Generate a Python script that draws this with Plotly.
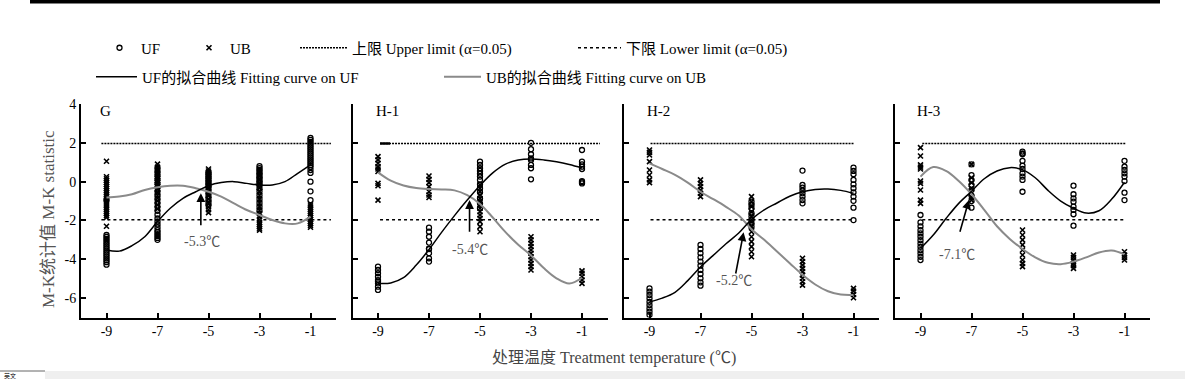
import plotly.graph_objects as go

# ---------------- data ----------------
TEMPS = [-9, -7, -5, -3, -1]
TEMP_LABELS = ["-9", "-7", "-5", "-3", "-1"]
Y_TICKS = [-6, -4, -2, 0, 2, 4]
Y_TICK_LABELS = ["-6", "-4", "-2", "0", "2", "4"]
PANEL_NAMES = ["G", "H-1", "H-2", "H-3"]
CROSS_LABELS = ["-5.3℃", "-5.4℃", "-5.2℃", "-7.1℃"]
UPPER = 1.96
LOWER = -1.96

# observed UF / UB values, one list per treatment temperature (-9, -7, -5, -3, -1)
G_UF = [
    [-0.95, -2.75, -2.85, -2.95, -3.05, -3.15, -3.25, -3.35, -3.45, -3.55, -3.65, -3.75, -3.85, -3.95, -4.05, -4.15, -4.28],
    [0.7, 0.5, 0.3, 0.1, -0.1, -0.3, -0.5, -0.7, -0.9, -1.1, -1.3, -1.5, -1.7, -1.9, -2.05, -2.2, -2.35, -2.5, -2.6, -2.7, -2.8, -2.9, -3.0],
    [0.5, 0.4, 0.3, 0.2, 0.1, 0.0, -0.1, -0.2, -0.3, -0.45, -0.6, -0.75, -0.9, -1.05, -1.2],
    [0.8, 0.7, 0.6, 0.5, 0.4, 0.3, 0.2, 0.1, 0.0, -0.1, -0.2, -0.35, -0.5, -0.7, -0.9, -1.1, -1.3, -1.5],
    [2.25, 2.15, 2.05, 1.95, 1.85, 1.75, 1.65, 1.55, 1.45, 1.35, 1.25, 1.15, 1.05, 0.95, 0.85, 0.75, 0.6, 0.45, 0.0, -0.5, -0.95],
]
G_UB = [
    [1.05, 0.25, 0.15, 0.05, -0.05, -0.15, -0.25, -0.35, -0.45, -0.55, -0.65, -0.75, -0.85, -0.95, -1.05, -1.15, -1.25, -1.35, -1.45, -1.55, -1.65, -1.75, -1.85, -2.3],
    [0.9, 0.75, 0.65, 0.55, 0.45, 0.35, 0.25, 0.15, 0.05, -0.05, -0.15, -0.25, -0.4, -0.55, -0.7, -0.85, -1.0, -1.2, -1.4],
    [0.65, 0.55, 0.45, 0.35, 0.25, 0.1, -0.05, -0.2, -0.35, -0.5, -0.7, -0.9, -1.1, -1.3, -1.45, -1.6],
    [0.5, 0.3, 0.1, -0.1, -0.3, -0.5, -0.7, -0.9, -1.1, -1.3, -1.5, -1.65, -1.8, -1.95, -2.1, -2.2, -2.3, -2.4, -2.5],
    [-1.15, -1.25, -1.35, -1.45, -1.55, -1.65, -1.75, -1.85, -1.95, -2.05, -2.15, -2.25, -2.35],
]
H1_UF = [
    [-4.38, -4.55, -4.72, -4.9, -5.07, -5.15, -5.24, -5.41, -5.58],
    [-2.37, -2.58, -2.84, -3.14, -3.45, -3.47, -3.69, -3.95, -4.12],
    [1.03, 0.86, 0.69, 0.55, 0.41, 0.26, 0.09, -0.14, -0.34, -0.55, -0.86, -1.12, -1.37],
    [2.0, 1.67, 1.41, 1.2, 1.12, 0.86, 0.69, 0.12],
    [1.63, 1.03, 0.89, 0.77, 0.65, 0.03, -0.03, -0.09],
]
H1_UB = [
    [1.29, 1.12, 0.95, 0.77, 0.65, 0.52, -0.09, -0.21, -0.95],
    [0.29, 0.12, -0.05, -0.26, -0.52, -0.69, -0.82],
    [-0.17, -0.34, -0.52, -0.69, -0.86, -1.03, -1.2, -1.37, -1.55, -1.72, -1.89, -2.06, -2.32, -2.58],
    [-2.84, -3.0, -3.18, -3.35, -3.52, -3.69, -3.87, -4.04, -4.21, -4.38, -4.55],
    [-4.6, -4.72, -4.9, -5.07, -5.24],
]
H2_UF = [
    [-5.5, -5.67, -5.84, -6.01, -6.19, -6.36, -6.53, -6.7, -6.87],
    [-3.26, -3.47, -3.69, -3.9, -4.12, -4.33, -4.55, -4.76, -4.98, -5.19, -5.36],
    [-1.03, -1.2, -1.37, -1.63, -1.8, -1.98, -2.15, -2.32],
    [0.57, -0.17, -0.31, -0.46, -0.6, -0.77, -0.95, -1.12],
    [0.72, 0.55, 0.38, 0.09, -0.14, -0.34, -0.55, -0.77, -0.99, -1.34, -1.98],
]
H2_UB = [
    [1.63, 1.51, 1.37, 1.03, 0.6, 0.34, 0.09, -0.05],
    [0.09, -0.09, -0.26, -0.43, -0.6, -0.77],
    [-0.77, -1.03, -1.29, -1.55, -1.8, -2.06, -2.32, -2.58, -2.84, -3.09, -3.35, -3.61, -3.87],
    [-3.95, -4.12, -4.3, -4.47, -4.64, -4.81, -4.98, -5.16, -5.33],
    [-5.5, -5.64, -5.81, -5.98],
]
H3_UF = [
    [-1.72, -2.1, -2.3, -2.5, -2.67, -2.84, -3.02, -3.19, -3.36, -3.53, -3.7, -3.87, -4.04],
    [0.89, 0.34, 0.09, -0.17, -0.43, -0.72, -1.0, -1.34],
    [1.55, 1.45, 1.41, 1.07, 0.82, 0.65, 0.43, 0.26, 0.09, -0.52],
    [-0.21, -0.65, -0.86, -1.03, -1.29, -1.46, -1.68, -2.27],
    [1.07, 0.77, 0.6, 0.43, 0.26, 0.03, -0.57, -0.95],
]
H3_UB = [
    [1.75, 1.32, 0.86, 0.75, 0.65, 0.03, -0.09, -0.43, -0.95, -1.12],
    [0.89, 0.2, -0.05, -0.35, -0.8, -0.95],
    [-2.49, -2.75, -3.0, -3.26, -3.52, -3.78, -4.04, -4.21, -4.38],
    [-3.78, -3.9, -4.04, -4.21, -4.33, -4.47],
    [-3.61, -3.78, -3.9, -4.04],
]

# fitted curves
FIT_X = [-9, -8.5, -8, -7.5, -7, -6.5, -6, -5.5, -5, -4.5, -4, -3.5, -3, -2.5, -2, -1.5, -1]
G_UF_FIT = [-3.52, -3.58, -3.3, -2.84, -2.06, -1.37, -0.86, -0.52, -0.21, -0.05, 0.0, -0.09, -0.17, -0.17, 0.0, 0.43, 0.86]
G_UB_FIT = [-0.82, -0.77, -0.65, -0.43, -0.29, -0.21, -0.21, -0.34, -0.52, -0.77, -1.12, -1.46, -1.72, -1.98, -2.15, -2.15, -1.8]
H1_UF_FIT = [-5.24, -5.22, -4.95, -4.3, -3.5, -2.6, -1.75, -0.95, -0.2, 0.45, 0.9, 1.12, 1.17, 1.12, 1.02, 0.88, 0.7]
H1_UB_FIT = [0.48, 0.05, -0.2, -0.33, -0.38, -0.4, -0.45, -0.7, -1.15, -1.85, -2.6, -3.25, -3.8, -4.45, -4.98, -5.25, -4.95]
H2_UF_FIT = [-6.19, -6.0, -5.7, -5.1, -4.4, -3.8, -3.2, -2.65, -1.95, -1.45, -1.1, -0.75, -0.52, -0.4, -0.38, -0.45, -0.6]
H2_UB_FIT = [0.94, 0.65, 0.35, -0.05, -0.52, -0.9, -1.3, -1.75, -2.45, -3.0, -3.6, -4.2, -4.8, -5.3, -5.65, -5.82, -5.84]
H3_UF_FIT = [-3.44, -2.75, -1.9, -1.12, -0.5, 0.15, 0.55, 0.72, 0.62, 0.2, -0.45, -1.0, -1.37, -1.62, -1.5, -0.9, -0.03]
H3_UB_FIT = [0.26, 0.75, 0.55, 0.03, -0.65, -1.45, -2.3, -2.95, -3.47, -3.9, -4.18, -4.25, -4.12, -3.9, -3.65, -3.55, -3.75]

# limit-line extents per panel
LIMIT_START = [-9.2, -8.92, -8.96, -8.93]
LIMIT_END = [-0.2, -0.3, -1.0, -0.96]
# short solid stub at the start of the upper limit in panel H-1
H1_UPPER_STUB_X = [-8.92, -8.53]

# crossing-point arrows (head / tail) and label positions
ARROW_HEAD_X = [-5.3, -5.41, -5.31, -7.1]
ARROW_HEAD_Y = [-0.6, -0.95, -2.61, -0.95]
ARROW_TAIL_X = [-5.3, -5.41, -5.63, -7.47]
ARROW_TAIL_Y = [-2.32, -2.66, -4.81, -2.66]
LABEL_X = [-5.24, -5.41, -5.68, -7.56]
LABEL_Y = [-3.09, -3.52, -5.07, -3.75]

# ---------------- layout constants ----------------
W, H = 1185, 379
PANEL_LEFT = [81, 352.5, 624, 895]
PANEL_W = 255
PLOT_TOP, PLOT_BOTTOM = 104, 317.5
PANEL_LABEL_DX = [17, 22, 21, 20]
SERIF = "Liberation Serif, 'Times New Roman', 'Noto Sans CJK SC', serif"
GRAY_CURVE = "#8a8a8a"


def fx(p):
    return p / W


def fy(p):
    return 1 - p / H


uf_sets = [G_UF, H1_UF, H2_UF, H3_UF]
ub_sets = [G_UB, H1_UB, H2_UB, H3_UB]
uf_fits = [G_UF_FIT, H1_UF_FIT, H2_UF_FIT, H3_UF_FIT]
ub_fits = [G_UB_FIT, H1_UB_FIT, H2_UB_FIT, H3_UB_FIT]

fig = go.Figure()
annotations = []
layout_axes = {}

for i in range(4):
    xa = "x" if i == 0 else f"x{i+1}"
    ya = "y" if i == 0 else f"y{i+1}"
    first = i == 0

    fig.add_trace(go.Scatter(
        x=[LIMIT_START[i], LIMIT_END[i]], y=[UPPER, UPPER], mode="lines",
        line=dict(color="black", width=1.5, dash="2px,1px"),
        name="上限 Upper limit (α=0.05)", legend="legend3", showlegend=first,
        xaxis=xa, yaxis=ya, hoverinfo="skip"))
    fig.add_trace(go.Scatter(
        x=[LIMIT_START[i], LIMIT_END[i]], y=[LOWER, LOWER], mode="lines",
        line=dict(color="black", width=1.5, dash="dot"),
        name="下限 Lower limit (α=0.05)", legend="legend4", showlegend=first,
        xaxis=xa, yaxis=ya, hoverinfo="skip"))
    if i == 1:
        fig.add_trace(go.Scatter(
            x=H1_UPPER_STUB_X, y=[UPPER, UPPER], mode="lines",
            line=dict(color="black", width=2.5), showlegend=False,
            xaxis=xa, yaxis=ya, hoverinfo="skip"))

    ux = [t for t, vals in zip(TEMPS, uf_sets[i]) for _ in vals]
    uy = [v for vals in uf_sets[i] for v in vals]
    bx = [t for t, vals in zip(TEMPS, ub_sets[i]) for _ in vals]
    by = [v for vals in ub_sets[i] for v in vals]

    fig.add_trace(go.Scatter(
        x=bx, y=by, mode="markers", name="UB",
        marker=dict(symbol="x-thin", size=5, line=dict(color="black", width=1.6), color="black"),
        legend="legend2", showlegend=first, xaxis=xa, yaxis=ya))
    fig.add_trace(go.Scatter(
        x=ux, y=uy, mode="markers", name="UF",
        marker=dict(symbol="circle-open", size=5, line=dict(color="black", width=1.3), color="black"),
        legend="legend", showlegend=first, xaxis=xa, yaxis=ya))

    fig.add_trace(go.Scatter(
        x=FIT_X, y=ub_fits[i], mode="lines", line_shape="spline",
        line=dict(color=GRAY_CURVE, width=2, smoothing=1.0),
        name="UB的拟合曲线 Fitting curve on UB", legend="legend6", showlegend=first,
        xaxis=xa, yaxis=ya, hoverinfo="skip"))
    fig.add_trace(go.Scatter(
        x=FIT_X, y=uf_fits[i], mode="lines", line_shape="spline",
        line=dict(color="black", width=1.5, smoothing=1.0),
        name="UF的拟合曲线 Fitting curve on UF", legend="legend5", showlegend=first,
        xaxis=xa, yaxis=ya, hoverinfo="skip"))

    left = fx(PANEL_LEFT[i])
    right = fx(PANEL_LEFT[i] + PANEL_W)
    xkey = "xaxis" if i == 0 else f"xaxis{i+1}"
    ykey = "yaxis" if i == 0 else f"yaxis{i+1}"
    layout_axes[xkey] = dict(
        domain=[left, right], range=[-10, 0], anchor=ya,
        tickmode="array", tickvals=TEMPS, ticktext=TEMP_LABELS,
        ticks="inside", ticklen=5, tickwidth=1.5, tickcolor="black",
        showline=True, linecolor="black", linewidth=2,
        showgrid=False, zeroline=False, automargin=False, fixedrange=True,
        tickfont=dict(family=SERIF, size=14, color="black"))
    layout_axes[ykey] = dict(
        domain=[fy(PLOT_BOTTOM), fy(PLOT_TOP)], range=[-7, 4], anchor=xa,
        tickmode="array", tickvals=Y_TICKS, ticktext=Y_TICK_LABELS,
        showticklabels=first,
        ticks="inside", ticklen=5, tickwidth=1.5, tickcolor="black",
        showline=True, linecolor="black", linewidth=2,
        showgrid=False, zeroline=False, automargin=False, fixedrange=True,
        tickfont=dict(family=SERIF, size=14, color="black"))

    # panel label
    annotations.append(dict(
        text=PANEL_NAMES[i], xref=f"{xa} domain", yref=f"{ya} domain",
        x=PANEL_LABEL_DX[i] / PANEL_W, y=(PLOT_BOTTOM - 111) / (PLOT_BOTTOM - PLOT_TOP),
        xanchor="left", yanchor="middle", showarrow=False,
        font=dict(family=SERIF, size=15, color="black")))
    # crossing arrow
    annotations.append(dict(
        text="", x=ARROW_HEAD_X[i], y=ARROW_HEAD_Y[i], xref=xa, yref=ya,
        ax=ARROW_TAIL_X[i], ay=ARROW_TAIL_Y[i], axref=xa, ayref=ya,
        showarrow=True, arrowhead=2, arrowsize=1.1, arrowwidth=1.6,
        arrowcolor="black", standoff=0, startstandoff=0))
    annotations.append(dict(
        text=CROSS_LABELS[i], x=LABEL_X[i], y=LABEL_Y[i], xref=xa, yref=ya,
        showarrow=False, xanchor="center", yanchor="middle",
        font=dict(family=SERIF, size=14, color="#555555")))

# axis titles
annotations.append(dict(
    text="处理温度 Treatment temperature (℃)", xref="paper", yref="paper",
    x=fx(614), y=fy(358), xanchor="center", yanchor="middle", showarrow=False,
    font=dict(family=SERIF, size=16, color="#444444")))
annotations.append(dict(
    text="M-K统计值 M-K statistic", xref="paper", yref="paper",
    x=fx(48), y=fy(219), xanchor="center", yanchor="middle", showarrow=False,
    textangle=-90, font=dict(family=SERIF, size=17, color="#555555")))
# bottom tab text (page chrome in the reference)
annotations.append(dict(
    text="英文", xref="paper", yref="paper", x=fx(2), y=fy(375),
    xanchor="left", yanchor="middle", showarrow=False,
    font=dict(family="Noto Sans CJK SC", size=6, color="black")))

shapes = [
    # thick rule at the top
    dict(type="rect", xref="paper", yref="paper", x0=fx(30), x1=fx(1160),
         y0=fy(3.5), y1=fy(0), fillcolor="black", line=dict(width=0), layer="above"),
    # grey status bar at the bottom
    dict(type="rect", xref="paper", yref="paper", x0=0, x1=1, y0=0, y1=fy(371),
         fillcolor="#efefef", line=dict(width=0)),
    dict(type="rect", xref="paper", yref="paper", x0=0, x1=fx(45), y0=0, y1=fy(371),
         fillcolor="white", line=dict(width=0)),
    dict(type="line", xref="paper", yref="paper", x0=0, x1=fx(45), y0=fy(371), y1=fy(371),
         line=dict(color="#666666", width=1)),
]

leg_font = dict(family=SERIF, size=15, color="black")


def legend_at(px_left, py_mid, itemwidth):
    return dict(x=fx(px_left), y=fy(py_mid), xanchor="left", yanchor="middle",
                orientation="h", bgcolor="rgba(0,0,0,0)", borderwidth=0,
                font=leg_font, itemwidth=itemwidth, itemclick=False, itemdoubleclick=False)


fig.update_layout(
    width=W, height=H, margin=dict(l=0, r=0, t=0, b=0), autosize=False,
    template="none", paper_bgcolor="white", plot_bgcolor="white",
    showlegend=True,
    legend=legend_at(98, 48, 33),
    legend2=legend_at(188, 48, 32),
    legend3=legend_at(295, 48, 47),
    legend4=legend_at(573, 48, 43),
    legend5=legend_at(91, 77, 41),
    legend6=legend_at(439, 77, 37),
    annotations=annotations, shapes=shapes,
    **layout_axes)

fig.write_html(
    "out.html",
    config={"displayModeBar": False, "staticPlot": False},
    post_script="document.body.style.margin='0';document.body.style.padding='0';document.body.style.overflow='hidden';",
)
